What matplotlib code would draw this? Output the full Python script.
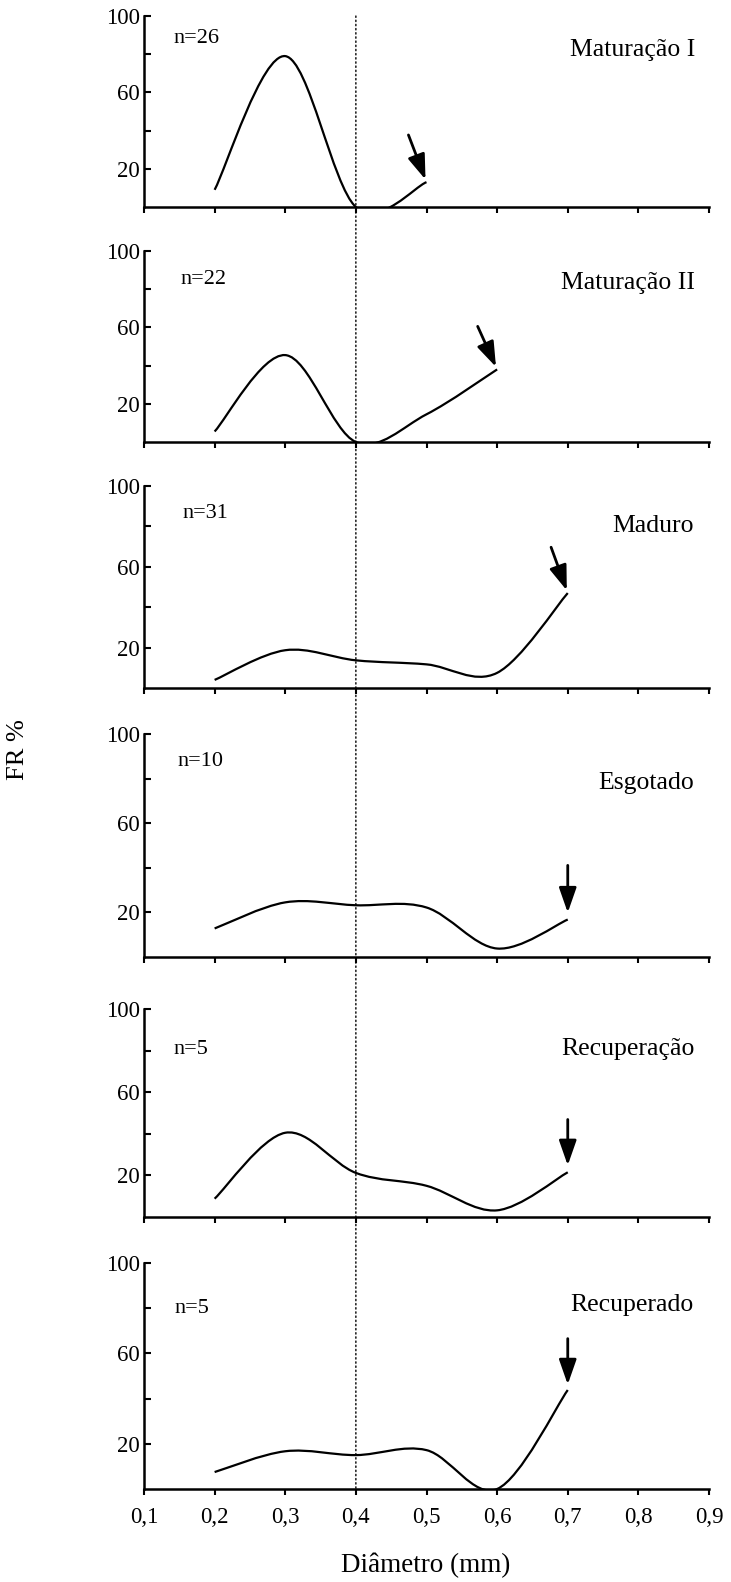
import matplotlib
matplotlib.use('Agg')
import matplotlib.pyplot as plt
from matplotlib.path import Path
from matplotlib.patches import PathPatch, ConnectionPatch
from matplotlib.ticker import FixedLocator, FuncFormatter

plt.rcParams['font.family'] = ['Liberation Serif', 'DejaVu Serif']

# relative frequency (FR %) by oocyte diameter class (mm), one panel per stage
stages = ['Maturação I', 'Maturação II', 'Maduro', 'Esgotado', 'Recuperação', 'Recuperado']
n_counts = [26, 22, 31, 10, 5, 5]

diam_mat1 = [0.2, 0.3, 0.4, 0.5]
fr_mat1 = [9, 79, 0, 13]
diam_mat2 = [0.2, 0.3, 0.4, 0.5, 0.6]
fr_mat2 = [5.5, 45.5, 0, 14.5, 38]
diam = [0.2, 0.3, 0.4, 0.5, 0.6, 0.7]
fr_maduro = [4, 18.7, 13.7, 11.7, 7.5, 47]
fr_esgotado = [12.8, 24.5, 23.2, 22.2, 3.8, 16.8]
fr_recuperacao = [8.8, 40.5, 21.2, 15, 3.2, 21.5]
fr_recuperado = [7.5, 16.7, 15, 17.2, 0, 43.8]

series = [(diam_mat1, fr_mat1), (diam_mat2, fr_mat2), (diam, fr_maduro),
          (diam, fr_esgotado), (diam, fr_recuperacao), (diam, fr_recuperado)]

x_ticks = [0.1, 0.2, 0.3, 0.4, 0.5, 0.6, 0.7, 0.8, 0.9]
y_major = [20, 60, 100]
y_minor = [40, 80]

# panel boxes in pixels: (top, bottom)
W, H = 731, 1582
boxes = [(16, 207), (251, 442), (486, 688), (734, 957), (1009, 1217), (1263, 1489)]
left_px, right_px = 144, 709

# label placement (data coords) and arrow tails (offset points from the last point)
n_pos = [(0.142, 88), (0.152, 85), (0.154, 86.5), (0.147, 87.5), (0.142, 80.5), (0.143, 80)]
title_pos = [(0.88, 82), (0.88, 83), (0.878, 80), (0.879, 78), (0.879, 81), (0.878, 81.5)]
arrow_tail = [(-13, 34), (-14, 31), (-12, 33), (0, 39), (0, 38), (0, 37)]
arrow_shrink = [2, 2, 2, 5, 5, 4]


def smooth_path(xs, ys):
    # Catmull-Rom style cubic Bezier through the points
    pts = list(zip(xs, ys))
    verts = [pts[0]]
    codes = [Path.MOVETO]
    for i in range(len(pts) - 1):
        p0 = pts[i - 1] if i > 0 else pts[i]
        p1, p2 = pts[i], pts[i + 1]
        p3 = pts[i + 2] if i + 2 < len(pts) else p2
        c1 = (p1[0] + (p2[0] - p0[0]) / 6, p1[1] + (p2[1] - p0[1]) / 6)
        c2 = (p2[0] - (p3[0] - p1[0]) / 6, p2[1] - (p3[1] - p1[1]) / 6)
        verts += [c1, c2, p2]
        codes += [Path.CURVE4] * 3
    return Path(verts, codes)


fig = plt.figure(figsize=(W / 100, H / 100), dpi=100)
axes = []
for i, (top, bot) in enumerate(boxes):
    ax = fig.add_axes([left_px / W, 1 - bot / H, (right_px - left_px) / W, (bot - top) / H])
    ax.patch.set_visible(False)
    axes.append(ax)
    xs, ys = series[i]
    ax.add_patch(PathPatch(smooth_path(xs, ys), fill=False, lw=1.6, color='black',
                           capstyle='butt', zorder=3))
    ax.set_xlim(0.1, 0.9)
    ax.set_ylim(0, 100)
    for s in ['top', 'right']:
        ax.spines[s].set_visible(False)
    for s in ['left', 'bottom']:
        ax.spines[s].set_linewidth(1.8)
    ax.xaxis.set_major_locator(FixedLocator(x_ticks))
    ax.yaxis.set_major_locator(FixedLocator(y_major))
    ax.yaxis.set_minor_locator(FixedLocator(y_minor))
    ax.tick_params(axis='y', which='both', direction='in', length=5, width=1.5,
                   labelsize=16.5, pad=3)
    ax.tick_params(axis='x', direction='out', length=4, width=1.5, labelsize=16.5, pad=9)
    if i < len(boxes) - 1:
        ax.tick_params(axis='x', labelbottom=False)
    else:
        ax.xaxis.set_major_formatter(FuncFormatter(lambda v, p: f'{v:.1f}'.replace('.', ',')))

    ax.text(n_pos[i][0], n_pos[i][1], f'n={n_counts[i]}', fontsize=16,
            ha='left', va='center')
    ax.text(title_pos[i][0], title_pos[i][1], stages[i], fontsize=18.5,
            ha='right', va='center')
    ax.annotate('', xy=(xs[-1], ys[-1]), xytext=arrow_tail[i], textcoords='offset points',
                arrowprops=dict(arrowstyle='-|>,head_length=0.8,head_width=0.28',
                                color='black', lw=2, mutation_scale=19,
                                shrinkA=0, shrinkB=arrow_shrink[i]))

# dotted guide at 0.4 mm through all panels
guide = ConnectionPatch(xyA=(0.4, 100), coordsA=axes[0].transData,
                        xyB=(0.4, 0), coordsB=axes[-1].transData,
                        linestyle=(0, (1, 2)), lw=1, color='black', zorder=1)
fig.add_artist(guide)

fig.text(18 / W, 1 - 750 / H, 'FR %', rotation=90, fontsize=19, ha='center', va='center')
fig.text(426 / W, 1 - 1565 / H, 'Diâmetro (mm)', fontsize=19.5, ha='center', va='center')

fig.savefig('out.png', dpi=100)
